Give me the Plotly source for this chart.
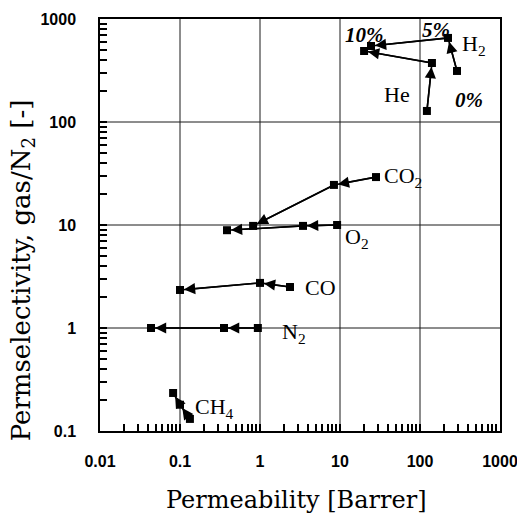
import numpy as np
import plotly.graph_objects as go

# Data: permeability [Barrer] and permselectivity gas/N2 at 0%, 5%, 10%
gases = ["H2", "He", "CO2", "O2", "CO", "N2", "CH4"]
perm_0 = [290, 122, 28.2, 9.2, 2.37, 0.94, 0.133]
perm_5 = [224, 141, 8.4, 3.45, 1.0, 0.355, 0.10]
perm_10 = [24.4, 20.0, 0.82, 0.387, 0.10, 0.0434, 0.082]
sel_0 = [313, 128, 29.2, 10.0, 2.5, 1.0, 0.131]
sel_5 = [655, 374, 24.5, 9.8, 2.74, 1.0, 0.18]
sel_10 = [547, 489, 9.8, 8.9, 2.34, 1.0, 0.234]

# Text labels
label_text = ["H<sub>2</sub>", "He", "CO<sub>2</sub>", "O<sub>2</sub>", "CO", "N<sub>2</sub>", "CH<sub>4</sub>"]
label_x = [316, 33.5, 33.5, 10.9, 3.45, 1.78, 0.145]
label_y = [560, 183, 29.2, 7.5, 2.5, 0.89, 0.167]
pct_text = ["0%", "5%", "10%"]
pct_x = [258, 100, 10.9]
pct_y = [164, 782, 700]

x_tickvals = [0.01, 0.1, 1, 10, 100, 1000]
x_ticktext = ["0.01", "0.1", "1", "10", "100", "1000"]
y_tickvals = [0.1, 1, 10, 100, 1000]
y_ticktext = ["0.1", "1", "10", "100", "1000"]

def with_minor(vals, texts):
    """Decade ticks plus unlabeled 2..9 ticks between them."""
    tv, tt = [], []
    for k, (v, t) in enumerate(zip(vals, texts)):
        tv.append(v)
        tt.append(t)
        if k < len(vals) - 1:
            for m in range(2, 10):
                tv.append(m * v)
                tt.append("")
    return tv, tt

xtv, xtt = with_minor(x_tickvals, x_ticktext)
ytv, ytt = with_minor(y_tickvals, y_ticktext)

fig = go.Figure()
annotations = []
for i, g in enumerate(gases):
    xs = [perm_0[i], perm_5[i], perm_10[i]]
    ys = [sel_0[i], sel_5[i], sel_10[i]]
    fig.add_trace(go.Scatter(
        x=xs, y=ys, mode="lines+markers", name=g,
        line=dict(color="black", width=1.6),
        marker=dict(symbol="square", size=8, color="black"),
        showlegend=False))
    for j in range(2):
        annotations.append(dict(
            x=np.log10(xs[j + 1]), y=np.log10(ys[j + 1]),
            ax=np.log10(xs[j]), ay=np.log10(ys[j]),
            xref="x", yref="y", axref="x", ayref="y",
            showarrow=True, arrowhead=2, arrowsize=1.4, arrowwidth=1.6,
            arrowcolor="black", standoff=4, text=""))

for t, lx, ly in zip(label_text, label_x, label_y):
    annotations.append(dict(
        x=np.log10(lx), y=np.log10(ly), xref="x", yref="y", text=t,
        showarrow=False, xanchor="left", yanchor="middle",
        font=dict(family="Liberation Serif", size=22, color="black")))

for t, lx, ly in zip(pct_text, pct_x, pct_y):
    annotations.append(dict(
        x=np.log10(lx), y=np.log10(ly), xref="x", yref="y", text=t,
        showarrow=False, xanchor="left", yanchor="middle",
        font=dict(family="Liberation Serif", size=21, color="black",
                  weight="bold", style="italic")))

# axis titles
annotations.append(dict(
    x=0.49, y=-0.168, xref="paper", yref="paper", text="Permeability [Barrer]",
    showarrow=False, xanchor="center", yanchor="middle",
    font=dict(family="DejaVu Serif", size=24, color="black")))
annotations.append(dict(
    x=-0.195, y=0.39, xref="paper", yref="paper",
    text="Permselectivity, gas/N<sub>2</sub> [-]", textangle=-90,
    showarrow=False, xanchor="center", yanchor="middle",
    font=dict(family="DejaVu Serif", size=26, color="black")))

# decade grid lines (shape coordinates on log axes are data values here)
shapes = []
for v in x_tickvals[1:-1]:
    shapes.append(dict(type="line", xref="x", yref="paper", x0=v, x1=v,
                       y0=0, y1=1, line=dict(color="#1a1a1a", width=1), layer="below"))
for v in y_tickvals[1:-1]:
    shapes.append(dict(type="line", xref="paper", yref="y", y0=v, y1=v,
                       x0=0, x1=1, line=dict(color="#1a1a1a", width=1), layer="below"))

axis_common = dict(
    type="log", showline=True, linecolor="black", linewidth=1.5, mirror=True,
    showgrid=False, zeroline=False, automargin=False, tickmode="array",
    ticks="inside", ticklen=7, tickwidth=1.5, tickcolor="black",
    tickfont=dict(family="Liberation Sans", size=16, color="black", weight="bold"),
)

fig.update_layout(
    width=517, height=506,
    margin=dict(l=92, r=25, t=11, b=83),
    paper_bgcolor="white", plot_bgcolor="white",
    annotations=annotations, shapes=shapes,
    xaxis=dict(axis_common, range=[-2, 3], tickvals=xtv, ticktext=xtt,
               ticklabelstandoff=15),
    yaxis=dict(axis_common, range=[-1, 3], tickvals=ytv, ticktext=ytt,
               ticklabelstandoff=19),
)

fig.write_html("out.html")
